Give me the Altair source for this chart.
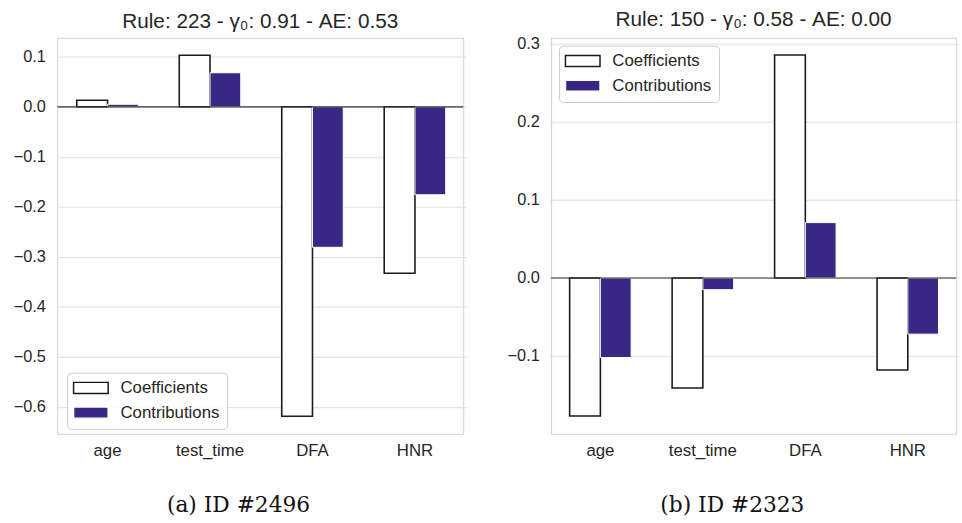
import altair as alt
import pandas as pd

# Features shown on the x axis and the two bar series
features = ["age", "test_time", "DFA", "HNR"]
series_names = ["Coefficients", "Contributions"]

# Panel (a): rule 223
coef_a = [0.013, 0.103, -0.619, -0.333]
contrib_a = [0.005, 0.068, -0.281, -0.176]
title_a = "Rule: 223 - γ₀: 0.91 - AE: 0.53"
caption_a = "(a) ID #2496"
yticks_a = [-0.6, -0.5, -0.4, -0.3, -0.2, -0.1, 0.0, 0.1]
ydomain_a = [-0.654, 0.138]

# Panel (b): rule 150
coef_b = [-0.177, -0.141, 0.286, -0.118]
contrib_b = [-0.102, -0.015, 0.071, -0.072]
title_b = "Rule: 150 - γ₀: 0.58 - AE: 0.00"
caption_b = "(b) ID #2323"
yticks_b = [-0.1, 0.0, 0.1, 0.2, 0.3]
ydomain_b = [-0.1998, 0.308]

PURPLE = "#382884"
EDGE = "#1a1a1a"
TEXT = "#262626"
SANS = "Liberation Sans"
SERIF = "DejaVu Serif"


def panel(coef, contrib, title, caption, yticks, ydomain, xrange, width,
          legend_x, legend_y):
    df = pd.DataFrame({
        "feature": features * 2,
        "series": [series_names[0]] * len(features) + [series_names[1]] * len(features),
        "value": coef + contrib,
    })

    # wide flat swatches: the path spans 5x1.6 units of a 14px symbol
    legend = alt.Legend(
        title=None, orient="none", legendX=legend_x, legendY=legend_y,
        padding=7, cornerRadius=4, strokeColor="#cccccc",
        fillColor="rgba(255,255,255,0.8)",
        labelFont=SANS, labelFontSize=17, labelColor=TEXT,
        symbolType="M-2.5,-0.8H2.5V0.8H-2.5Z", symbolSize=196,
        symbolOffset=8.5, symbolStrokeWidth=1.5, labelOffset=21.5, rowPadding=6,
    )

    x = alt.X(
        "feature:N", sort=features,
        scale=alt.Scale(range=xrange, paddingInner=0, paddingOuter=0),
        axis=alt.Axis(
            title=caption, labelAngle=0, ticks=False, domain=False,
            labelFont=SANS, labelFontSize=17, labelColor=TEXT, labelPadding=9,
            titleFont=SERIF, titleFontSize=22, titleFontWeight="normal",
            titleColor="#111111", titleX=183, titleY=79,
            titleBaseline="alphabetic", titleAlign="center", titleAnchor="start",
        ),
    )
    xoff = alt.XOffset(
        "series:N", sort=series_names,
        scale=alt.Scale(domain=series_names, paddingInner=0, paddingOuter=2 / 3),
    )
    y = alt.Y(
        "value:Q",
        scale=alt.Scale(domain=ydomain, nice=False, zero=False),
        axis=alt.Axis(
            title=None, values=yticks, format=".1f", ticks=False, domain=False,
            labelFont=SANS, labelFontSize=16.5, labelColor=TEXT, labelPadding=12,
            minExtent=52, maxExtent=52,
        ),
    )
    fill = alt.Fill(
        "series:N", scale=alt.Scale(domain=series_names, range=["white", PURPLE]),
        legend=legend,
    )
    stroke = alt.Stroke(
        "series:N", scale=alt.Scale(domain=series_names, range=[EDGE, "white"]),
        legend=legend,
    )

    base = alt.Chart(df)
    coef_bars = base.transform_filter(
        alt.datum.series == series_names[0]
    ).mark_bar(strokeWidth=1.6).encode(
        x=x, xOffset=xoff, y=y, y2=alt.datum(0), fill=fill, stroke=stroke
    )
    contrib_bars = base.transform_filter(
        alt.datum.series == series_names[1]
    ).mark_bar(strokeWidth=1).encode(
        x=x, xOffset=xoff, y=y, y2=alt.datum(0), fill=fill, stroke=stroke
    )
    zero_line = alt.Chart(pd.DataFrame({"z": [0.0]})).mark_rule(
        color="#333333", strokeWidth=1.2
    ).encode(y=alt.Y("z:Q"))

    return alt.layer(coef_bars, contrib_bars, zero_line).properties(
        width=width, height=401,
        title=alt.TitleParams(
            text=title, font=SANS, fontSize=21, fontWeight="normal", color=TEXT,
            anchor="middle", frame="group", offset=6,
        ),
    )


left = panel(coef_a, contrib_a, title_a, caption_a, yticks_a, ydomain_a,
             [-1, 414], 411, 10, 339)
right = panel(coef_b, contrib_b, title_b, caption_b, yticks_b, ydomain_b,
              [-2, 413], 410, 8, 8)

chart = alt.hconcat(left, right, spacing=31).resolve_scale(
    fill="independent", stroke="independent", y="independent"
).resolve_legend(
    fill="independent", stroke="independent"
).configure(
    padding={"left": 5, "top": 5, "right": 0, "bottom": 0},
    background="white",
).configure_view(
    stroke="#d0d0d0", strokeWidth=1
).configure_axis(
    gridColor="#dddddd", gridWidth=1
)

chart.save("out.html", embed_options={"renderer": "svg", "actions": False})
